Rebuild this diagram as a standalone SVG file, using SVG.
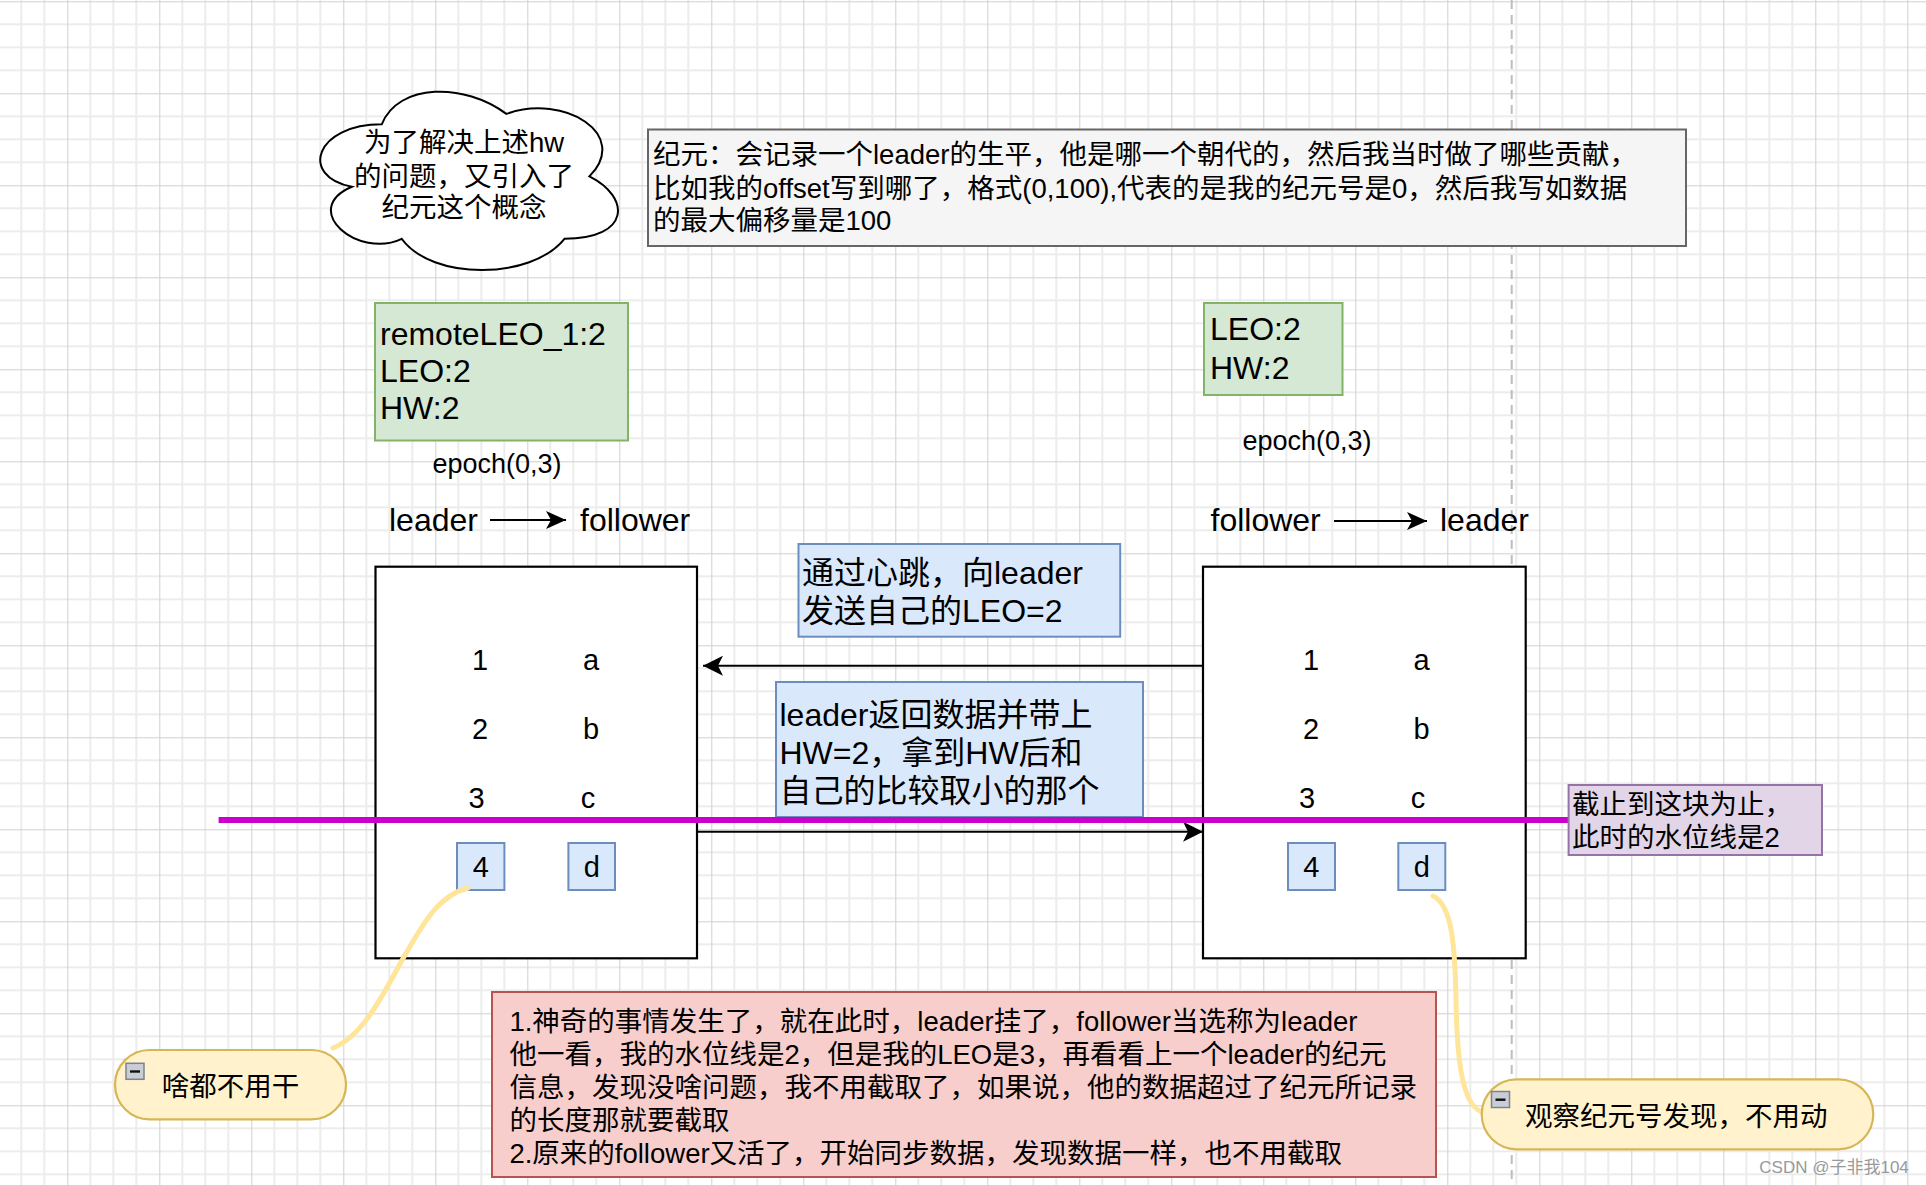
<svg xmlns="http://www.w3.org/2000/svg" width="1926" height="1185" viewBox="0 0 1926 1185">
<style>
.t{font-family:"Liberation Sans","Noto Sans CJK SC",sans-serif;fill:#000}
.f27{font-size:27.5px}
.f32{font-size:32px}
.num{font-size:29px;text-anchor:middle}
.box{fill:#fff;stroke:#000;stroke-width:2.2}
.green{fill:#d5e8d4;stroke:#82b366;stroke-width:2}
.blue{fill:#dae8fc;stroke:#6c8ebf;stroke-width:2}
.pill{fill:#fff2cc;stroke:#d6b656;stroke-width:2.2}
.arrow{fill:none;stroke:#000;stroke-width:2}
.curve{fill:none;stroke:#ffe599;stroke-width:5;stroke-linecap:round}
</style>
<defs>
<pattern id="grid" width="92" height="92" patternUnits="userSpaceOnUse" patternTransform="translate(67.3,1.3)">
<rect width="92" height="92" fill="#fff"/>
<path d="M23,0V92M46,0V92M69,0V92M0,23H92M0,46H92M0,69H92" stroke="#ececec" stroke-width="2"/>
<path d="M0.5,0V92M0,0.5H92" stroke="#d0d0d0" stroke-width="1"/>
</pattern>
<marker id="arr" markerUnits="userSpaceOnUse" markerWidth="20" markerHeight="20" viewBox="0 0 20 20" refX="20" refY="10" orient="auto">
<path d="M0,0 L20,10 L0,20 L5,10 Z" fill="#000"/>
</marker>
<marker id="arrs" markerUnits="userSpaceOnUse" markerWidth="20" markerHeight="18" viewBox="0 0 20 18" refX="20" refY="9" orient="auto">
<path d="M0,0 L20,9 L0,18 L5,9 Z" fill="#000"/>
</marker>
<g id="minus">
<rect x="0" y="0" width="18" height="16" fill="#c9cdd5" stroke="#7c8290" stroke-width="1.5"/>
<rect x="4" y="7" width="10" height="2.4" fill="#111"/>
</g>
</defs>

<rect width="1926" height="1185" fill="url(#grid)"/>
<line x1="1511.7" y1="0" x2="1511.7" y2="1185" stroke="#bdbdbd" stroke-width="2" stroke-dasharray="9 6"/>

<g id="cloud">
<path transform="translate(298.7,72.3) scale(332.2,208.1)" vector-effect="non-scaling-stroke" fill="#fff" stroke="#000" stroke-width="2" d="M0.25,0.25 C0.05,0.25 0,0.5 0.16,0.55 C0,0.66 0.18,0.9 0.31,0.8 C0.4,1 0.7,1 0.8,0.8 C1,0.8 1,0.6 0.875,0.5 C1,0.3 0.8,0.1 0.625,0.2 C0.5,0.05 0.3,0.05 0.25,0.25 Z"/>
<text class="t f27" text-anchor="middle" x="464" y="152">为了解决上述hw</text>
<text class="t f27" text-anchor="middle" x="464" y="185.5">的问题，又引入了</text>
<text class="t f27" text-anchor="middle" x="464" y="217">纪元这个概念</text>
</g>

<g id="epoch-note">
<rect x="648" y="129.5" width="1038" height="116.5" fill="#f5f5f5" stroke="#666" stroke-width="2"/>
<text class="t f27" x="653" y="164">纪元：会记录一个leader的生平，他是哪一个朝代的，然后我当时做了哪些贡献，</text>
<text class="t f27" x="653" y="197.5">比如我的offset写到哪了，格式(0,100),代表的是我的纪元号是0，然后我写如数据</text>
<text class="t f27" x="653" y="230">的最大偏移量是100</text>
</g>

<g id="left-state">
<rect class="green" x="375" y="303" width="253" height="137.5"/>
<text class="t f32" x="380" y="345">remoteLEO_1:2</text>
<text class="t f32" x="380" y="382">LEO:2</text>
<text class="t f32" x="380" y="419">HW:2</text>
</g>
<text id="left-epoch" class="t" style="font-size:27px" text-anchor="middle" x="497" y="473">epoch(0,3)</text>

<g id="right-state">
<rect class="green" x="1204" y="303" width="138.5" height="92"/>
<text class="t f32" x="1210" y="340">LEO:2</text>
<text class="t f32" x="1210" y="378.5">HW:2</text>
</g>
<text id="right-epoch" class="t" style="font-size:27px" text-anchor="middle" x="1307" y="450">epoch(0,3)</text>

<g id="left-roles">
<text class="t f32" x="389" y="531">leader</text>
<text class="t f32" x="580" y="531">follower</text>
</g>
<g id="right-roles">
<text class="t f32" x="1210.5" y="531">follower</text>
<text class="t f32" x="1440" y="531">leader</text>
</g>

<g id="left-log">
<rect class="box" x="375.5" y="566.7" width="321.5" height="391.6"/>
<text class="t num" x="480" y="670">1</text>
<text class="t num" x="591" y="670">a</text>
<text class="t num" x="480" y="739">2</text>
<text class="t num" x="591" y="739">b</text>
<text class="t num" x="476.5" y="807.5">3</text>
<text class="t num" x="588" y="807.5">c</text>
<rect class="blue" x="457" y="843" width="47.4" height="47"/>
<text class="t num" x="480.7" y="877">4</text>
<rect class="blue" x="568.4" y="843" width="46.6" height="47"/>
<text class="t num" x="591.7" y="877">d</text>
</g>

<g id="right-log">
<rect class="box" x="1203" y="566.7" width="322.7" height="391.6"/>
<text class="t num" x="1311" y="670">1</text>
<text class="t num" x="1421.5" y="670">a</text>
<text class="t num" x="1311" y="739">2</text>
<text class="t num" x="1421.5" y="739">b</text>
<text class="t num" x="1307" y="807.5">3</text>
<text class="t num" x="1418" y="807.5">c</text>
<rect class="blue" x="1288" y="843" width="47" height="47"/>
<text class="t num" x="1311.4" y="877">4</text>
<rect class="blue" x="1398.3" y="843" width="47" height="47"/>
<text class="t num" x="1421.8" y="877">d</text>
</g>

<g id="heartbeat-note">
<rect class="blue" x="798.5" y="544" width="321.7" height="92.7"/>
<text class="t f32" x="802" y="584">通过心跳，向leader</text>
<text class="t f32" x="802" y="622.3">发送自己的LEO=2</text>
</g>

<g id="return-note">
<rect class="blue" x="776" y="682" width="367" height="135"/>
<text class="t f32" x="779.5" y="725.5">leader返回数据并带上</text>
<text class="t f32" x="779.5" y="764">HW=2，拿到HW后和</text>
<text class="t f32" x="779.5" y="802.3">自己的比较取小的那个</text>
</g>

<g id="connectors">
<path class="arrow" d="M490,520 L566,520" marker-end="url(#arrs)"/>
<path class="arrow" d="M1334,521 L1427,521" marker-end="url(#arrs)"/>
<path class="arrow" d="M1203,665.7 L703,665.7" marker-end="url(#arr)"/>
<path class="arrow" d="M697,831.7 L1203,831.7" marker-end="url(#arr)"/>
<line x1="218.6" y1="820" x2="1569" y2="820" stroke="#cc00cc" stroke-width="6"/>
<path class="curve" d="M468,888 C440,895 425,920 405,955 C385,990 365,1035 333,1048"/>
<path class="curve" d="M1433,896 C1452,905 1455,945 1456,1000 C1457,1060 1462,1105 1482,1112"/>
</g>

<g id="watermark-note">
<rect x="1568.6" y="785" width="253.4" height="70" fill="#e1d5e7" stroke="#9673a6" stroke-width="2"/>
<text class="t f27" x="1572" y="814">截止到这块为止，</text>
<text class="t f27" x="1572" y="847.3">此时的水位线是2</text>
</g>

<g id="idle-pill">
<rect class="pill" x="115" y="1050" width="231" height="69.3" rx="34.6"/>
<use href="#minus" x="126" y="1063.3"/>
<text class="t f27" x="161.7" y="1095.5">啥都不用干</text>
</g>

<g id="epoch-pill">
<rect class="pill" x="1481.7" y="1079.3" width="391.6" height="70" rx="35"/>
<use href="#minus" x="1491.5" y="1091.5"/>
<text class="t f27" x="1525" y="1125.5">观察纪元号发现，不用动</text>
</g>

<g id="summary-note">
<rect x="492" y="992" width="944" height="185" fill="#f8cecc" stroke="#b85450" stroke-width="2"/>
<text class="t f27" x="509.4" y="1030.5">1.神奇的事情发生了，就在此时，leader挂了，follower当选称为leader</text>
<text class="t f27" x="509.4" y="1063.5">他一看，我的水位线是2，但是我的LEO是3，再看看上一个leader的纪元</text>
<text class="t f27" x="509.4" y="1096.5">信息，发现没啥问题，我不用截取了，如果说，他的数据超过了纪元所记录</text>
<text class="t f27" x="509.4" y="1129.5">的长度那就要截取</text>
<text class="t f27" x="509.4" y="1162.5">2.原来的follower又活了，开始同步数据，发现数据一样，也不用截取</text>
</g>

<text id="credit" class="t" style="font-size:17px;fill:#999" x="1759.3" y="1173">CSDN @子非我104</text>
</svg>
